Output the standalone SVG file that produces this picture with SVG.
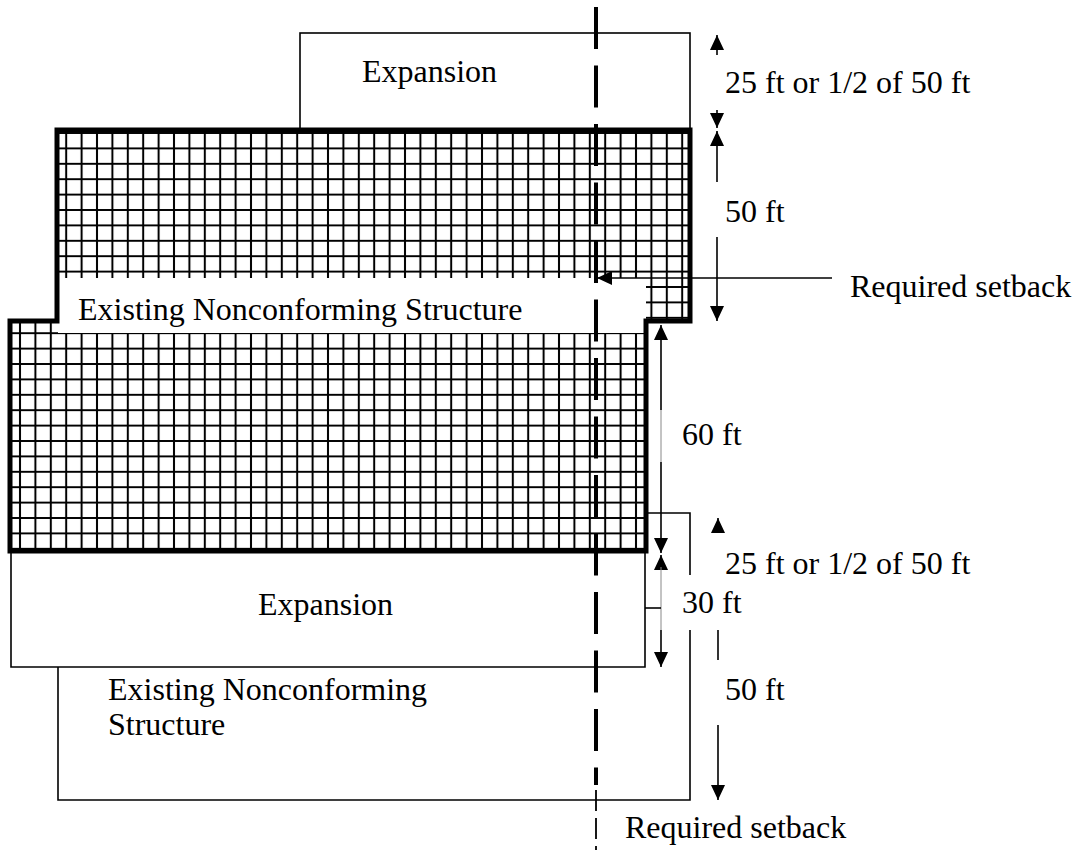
<svg xmlns="http://www.w3.org/2000/svg" width="1078" height="850" viewBox="0 0 1078 850">
<style>
text{font-family:"Liberation Serif","Times New Roman",serif;font-size:32px;fill:#000}
.box{fill:none;stroke:#000;stroke-width:1.6}
.dim{fill:none;stroke:#000;stroke-width:1.6}
.faint{fill:none;stroke:#888;stroke-width:1}
.outline{fill:none;stroke:#000;stroke-width:5;stroke-linejoin:miter}
</style>
<defs>
<pattern id="grid" patternUnits="userSpaceOnUse" x="12.3" y="125.3" width="15.4" height="15.4">
<path d="M7.7 0V15.4M0 7.7H15.4" stroke="#000" stroke-width="2" fill="none"/>
</pattern>
<marker id="ah" viewBox="0 0 15 14" refX="15" refY="7" markerWidth="15" markerHeight="14" markerUnits="userSpaceOnUse" orient="auto">
<path d="M0 0L15 7L0 14Z" fill="#000"/>
</marker>
</defs>
<rect width="1078" height="850" fill="#fff"/>

<g id="top-expansion">
<rect x="300" y="33" width="390" height="97" class="box"/>
<text x="362" y="82">Expansion</text>
</g>

<g id="bottom-existing">
<path d="M58 667V800H660" class="box" stroke-width="2"/>
<path d="M660 800H690V630M690 575V513H646" class="box" stroke-width="1.2"/>
<text x="108" y="700">Existing Nonconforming</text>
<text x="108" y="735">Structure</text>
</g>

<g id="bottom-expansion">
<path d="M11 551V667H645V551" class="box"/>
<text x="258" y="615">Expansion</text>
</g>

<g id="existing-structure">
<path d="M57 130H690V321H646V551H10V321H57Z" fill="url(#grid)"/>
<rect x="58" y="278" width="588" height="55" fill="#fff"/>
<text x="78" y="320">Existing Nonconforming Structure</text>
<path d="M57 130H690V321H646V551H10V321H57Z" class="outline"/>
</g>

<g id="setback-line">
<line x1="596" y1="7" x2="596" y2="785" stroke="#000" stroke-width="4" stroke-dasharray="42 16.5"/>
<line x1="596" y1="790" x2="596" y2="850" stroke="#000" stroke-width="1.8" stroke-dasharray="21 7"/>
</g>

<g id="connectors">
<line x1="717" y1="55" x2="717" y2="35" class="dim" marker-end="url(#ah)"/>
<line x1="717" y1="110" x2="717" y2="128" class="dim" marker-end="url(#ah)"/>
<line x1="717" y1="182" x2="717" y2="131" class="dim" marker-end="url(#ah)"/>
<line x1="717" y1="237" x2="717" y2="321" class="dim" marker-end="url(#ah)"/>
<line x1="832" y1="278" x2="597" y2="278" class="dim" marker-end="url(#ah)"/>
<line x1="661" y1="410" x2="661" y2="325" class="dim" marker-end="url(#ah)"/>
<line x1="661" y1="410" x2="661" y2="462" class="faint"/>
<line x1="661" y1="462" x2="661" y2="553" class="dim" marker-end="url(#ah)"/>
<line x1="661" y1="569" x2="661" y2="555" class="dim" marker-end="url(#ah)"/>
<line x1="661" y1="567" x2="661" y2="630" class="faint"/>
<line x1="661" y1="630" x2="661" y2="667" class="dim" marker-end="url(#ah)"/>
<line x1="645" y1="608" x2="661" y2="608" class="dim"/>
<line x1="718" y1="533" x2="718" y2="518" class="dim" marker-end="url(#ah)"/>
<line x1="718" y1="630" x2="718" y2="660" class="dim"/>
<line x1="718" y1="725" x2="718" y2="800" class="dim" marker-end="url(#ah)"/>
</g>

<g id="labels">
<text x="725" y="93">25 ft or 1/2 of 50 ft</text>
<text x="725" y="222">50 ft</text>
<text x="850" y="297">Required setback</text>
<text x="682" y="445">60 ft</text>
<text x="725" y="574">25 ft or 1/2 of 50 ft</text>
<text x="682" y="613">30 ft</text>
<text x="725" y="700">50 ft</text>
<text x="625" y="838">Required setback</text>
</g>
</svg>
